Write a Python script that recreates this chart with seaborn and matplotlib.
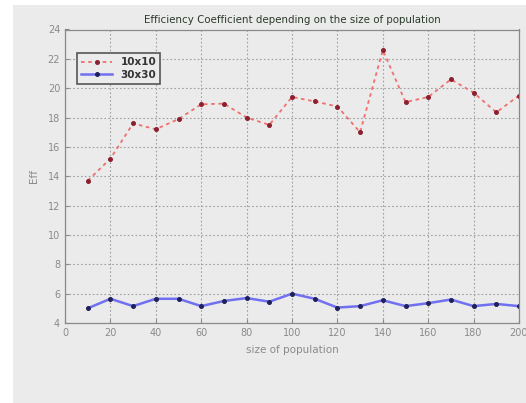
import matplotlib
matplotlib.use("Agg")
import matplotlib.pyplot as plt
import seaborn as sns
import pandas as pd

population = [10, 20, 30, 40, 50, 60, 70, 80, 90, 100,
              110, 120, 130, 140, 150, 160, 170, 180, 190, 200]
eff_10x10 = [13.7, 15.2, 17.6, 17.2, 17.9, 18.9, 18.95, 18.0, 17.5, 19.4,
             19.1, 18.75, 17.0, 22.6, 19.05, 19.4, 20.6, 19.7, 18.35, 19.5]
eff_30x30 = [5.0, 5.65, 5.15, 5.65, 5.65, 5.15, 5.5, 5.7, 5.45, 6.0,
             5.65, 5.05, 5.15, 5.55, 5.15, 5.35, 5.6, 5.15, 5.3, 5.15]
x_ticks = [0, 20, 40, 60, 80, 100, 120, 140, 160, 180, 200]
y_ticks = [4, 6, 8, 10, 12, 14, 16, 18, 20, 22, 24]

df = pd.concat([
    pd.DataFrame({"size": population, "eff": eff_10x10, "grid": "10x10"}),
    pd.DataFrame({"size": population, "eff": eff_30x30, "grid": "30x30"}),
])

bg = "#ebebeb"
fig = plt.figure(figsize=(5.26, 4.03), dpi=100, facecolor="white")
# gray figure panel, leaving a thin white margin at the top and left
fig.patches.append(plt.Rectangle((13 / 526, 0), 1, 1 - 5 / 403,
                                 transform=fig.transFigure, facecolor=bg,
                                 edgecolor="none", zorder=-10))
ax = fig.add_axes([65 / 526, 1 - 323 / 403, 454 / 526, (323 - 29.5) / 403])
ax.set_facecolor(bg)

sns.lineplot(data=df[df.grid == "10x10"], x="size", y="eff", ax=ax,
             color="#f07070", linestyle=(0, (2, 2)), linewidth=1.3,
             marker="o", markersize=2.8, markerfacecolor="#8a2030",
             markeredgecolor="#8a2030", label="10x10")
sns.lineplot(data=df[df.grid == "30x30"], x="size", y="eff", ax=ax,
             color="#7070f0", linewidth=1.8,
             marker="o", markersize=2.8, markerfacecolor="#20205a",
             markeredgecolor="#20205a", label="30x30")

ax.set_xlim(0, 200)
ax.set_ylim(4, 24)
ax.set_xticks(x_ticks)
ax.set_yticks(y_ticks)
ax.grid(True, color="#a0a0a0", linestyle=(0, (1.5, 2)), linewidth=0.8)
ax.tick_params(labelsize=7, colors="#8a8a8a", length=3, direction="in")
for s in ax.spines.values():
    s.set_color("#8a8a8a")
    s.set_linewidth(0.9)

ax.set_title("Efficiency Coefficient depending on the size of population",
             fontsize=7.4, color="#2a3a2a", pad=5)
ax.set_xlabel("size of population", fontsize=7.5, color="#8a8a8a", labelpad=5)
ax.set_ylabel("Eff", fontsize=7.5, color="#8a8a8a", labelpad=6)

leg = ax.legend(loc="upper left", bbox_to_anchor=(0.026, 0.92), fontsize=7.5,
                frameon=True, fancybox=False, borderpad=0.4,
                handlelength=3.0, labelspacing=0.25, borderaxespad=0)
leg.get_frame().set_facecolor(bg)
leg.get_frame().set_edgecolor("#555555")
leg.get_frame().set_linewidth(1.2)
leg.get_frame().set_alpha(1)
for t in leg.get_texts():
    t.set_color("#333333")
    t.set_fontweight("bold")

fig.savefig("out.png", dpi=100, facecolor="white")
